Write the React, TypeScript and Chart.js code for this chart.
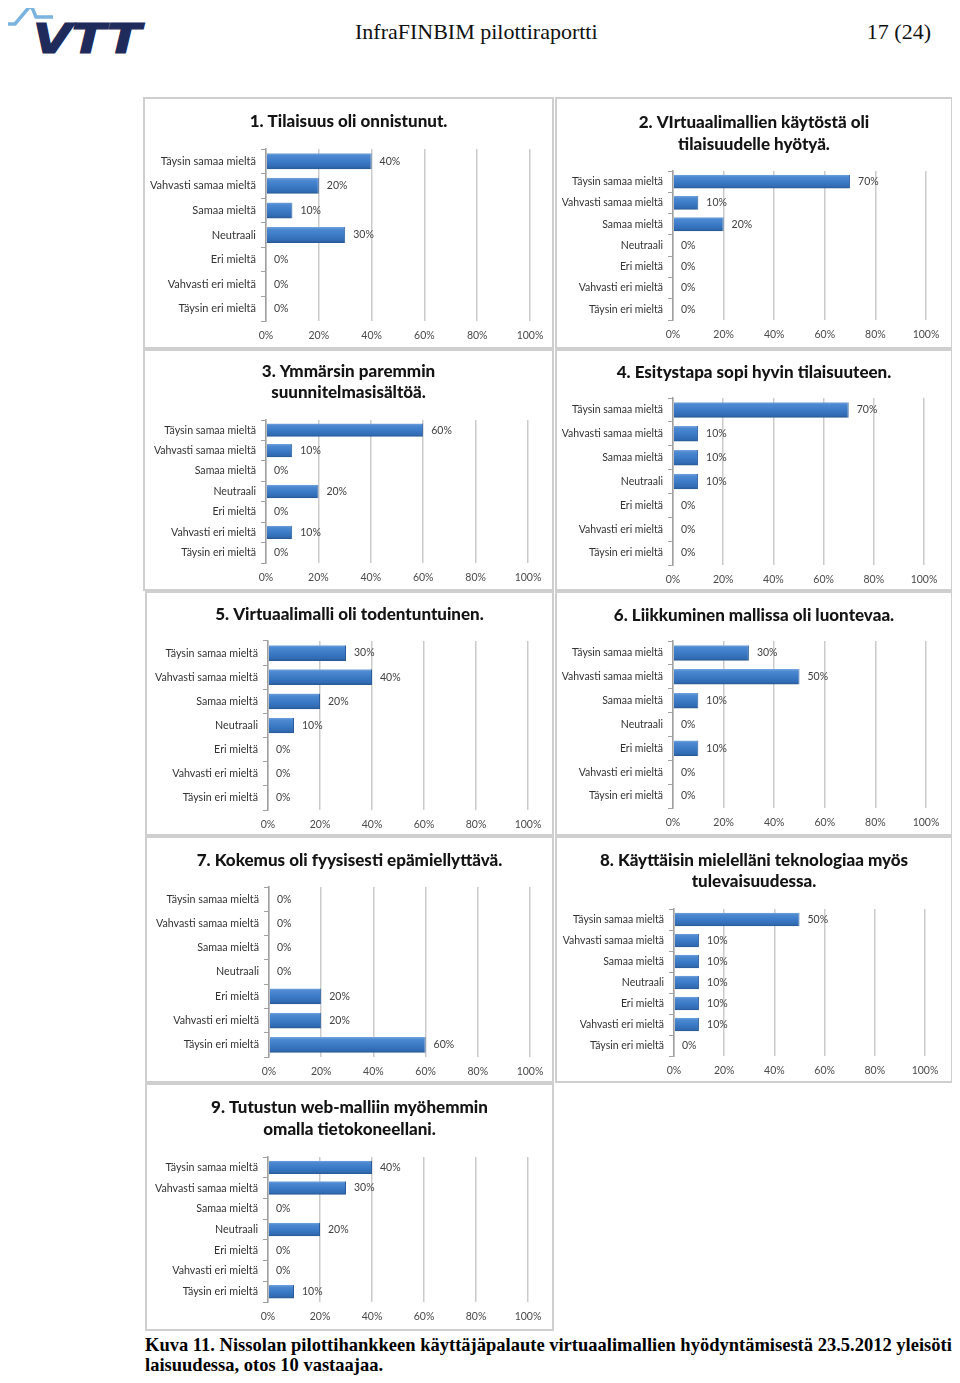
import React, { useEffect, useLayoutEffect, useRef, useState } from "react";
import { Chart, registerables } from "chart.js";

Chart.register(...registerables);

// ---------- data ----------
const CATEGORIES = [
  "Täysin samaa mieltä",
  "Vahvasti samaa mieltä",
  "Samaa mieltä",
  "Neutraali",
  "Eri mieltä",
  "Vahvasti eri mieltä",
  "Täysin eri mieltä",
];
const X_TICK_STEP = 20;
const X_MAX = 100;

const TITLE_1 = ["1. Tilaisuus oli onnistunut."];
const TITLE_2 = ["2. VIrtuaalimallien käytöstä oli", "tilaisuudelle hyötyä."];
const TITLE_3 = ["3. Ymmärsin paremmin", "suunnitelmasisältöä."];
const TITLE_4 = ["4. Esitystapa sopi hyvin tilaisuuteen."];
const TITLE_5 = ["5. Virtuaalimalli oli todentuntuinen."];
const TITLE_6 = ["6. Liikkuminen mallissa oli luontevaa."];
const TITLE_7 = ["7. Kokemus oli fyysisesti epämiellyttävä."];
const TITLE_8 = ["8. Käyttäisin mielelläni teknologiaa myös", "tulevaisuudessa."];
const TITLE_9 = ["9. Tutustun web-malliin myöhemmin", "omalla tietokoneellani."];

const VALUES_1 = [40, 20, 10, 30, 0, 0, 0];
const VALUES_2 = [70, 10, 20, 0, 0, 0, 0];
const VALUES_3 = [60, 10, 0, 20, 0, 10, 0];
const VALUES_4 = [70, 10, 10, 10, 0, 0, 0];
const VALUES_5 = [30, 40, 20, 10, 0, 0, 0];
const VALUES_6 = [30, 50, 10, 0, 10, 0, 0];
const VALUES_7 = [0, 0, 0, 0, 20, 20, 60];
const VALUES_8 = [50, 10, 10, 10, 10, 10, 0];
const VALUES_9 = [40, 30, 0, 20, 0, 0, 10];

const HEADER_TITLE = "InfraFINBIM pilottiraportti";
const HEADER_PAGE = "17 (24)";
const CAPTION_1 =
  "Kuva 11. Nissolan pilottihankkeen käyttäjäpalaute virtuaalimallien hyödyntämisestä 23.5.2012 yleisöti-";
const CAPTION_2 = "laisuudessa, otos 10 vastaajaa.";

// ---------- layout (page coordinates) ----------
type PanelSpec = {
  title: string[];
  values: number[];
  box: [number, number, number, number]; // left, top, width, height
  plot: [number, number, number, number]; // left, top, right, bottom
  titleY: number[];
  labelSize: number;
};

const PANELS: PanelSpec[] = [
  { title: TITLE_1, values: VALUES_1, box: [143, 97, 411, 252], plot: [266, 149, 530, 321], titleY: [122], labelSize: 11 },
  { title: TITLE_2, values: VALUES_2, box: [555, 97, 398, 252], plot: [673, 171, 926, 320], titleY: [123, 145], labelSize: 10.5 },
  { title: TITLE_3, values: VALUES_3, box: [143, 349, 411, 242], plot: [266, 420, 528, 563], titleY: [372, 393], labelSize: 10.6 },
  { title: TITLE_4, values: VALUES_4, box: [555, 349, 398, 242], plot: [673, 398, 924, 565], titleY: [373], labelSize: 10.5 },
  { title: TITLE_5, values: VALUES_5, box: [145, 591, 409, 245], plot: [268, 641, 528, 810], titleY: [615], labelSize: 10.7 },
  { title: TITLE_6, values: VALUES_6, box: [555, 591, 398, 245], plot: [673, 641, 926, 808], titleY: [616], labelSize: 10.5 },
  { title: TITLE_7, values: VALUES_7, box: [145, 836, 409, 247], plot: [269, 887, 530, 1057], titleY: [861], labelSize: 10.7 },
  { title: TITLE_8, values: VALUES_8, box: [555, 836, 398, 247], plot: [674, 909, 925, 1056], titleY: [861, 882], labelSize: 10.5 },
  { title: TITLE_9, values: VALUES_9, box: [145, 1083, 409, 248], plot: [268, 1157, 528, 1302], titleY: [1108, 1130], labelSize: 10.7 },
];

const PAGE_OFFSET = 8; // body margin
const BORDER = 2;
const BAR_PCT = 0.65;
const FONT = "Lato, 'Open Sans', sans-serif";
const SERIF = "'Liberation Serif', 'Times New Roman', serif";

function BarPanel({ spec }: { spec: PanelSpec }) {
  const ref = useRef<HTMLCanvasElement>(null);
  const [bx, by, bw, bh] = spec.box;
  const ox = bx + BORDER;
  const oy = by + BORDER;
  const cw = bw - 2 * BORDER;
  const ch = bh - 2 * BORDER;

  useEffect(() => {
    if (!ref.current) return;
    const [pl, pt, pr, pb] = spec.plot;

    const barFill = (c: any) => {
      const chart = c.chart;
      const ys = chart.scales && chart.scales.y;
      if (!ys || c.type !== "data" || !isFinite(ys.height)) return "#3b78c3";
      const center = ys.getPixelForValue(c.dataIndex);
      const half = ((ys.height / CATEGORIES.length) * BAR_PCT) / 2;
      if (!isFinite(center) || half <= 0) return "#3b78c3";
      const g = chart.ctx.createLinearGradient(0, center - half, 0, center + half);
      g.addColorStop(0, "#76a5de");
      g.addColorStop(0.15, "#4d89d1");
      g.addColorStop(0.5, "#3c7bc7");
      g.addColorStop(0.85, "#316bb3");
      g.addColorStop(1, "#26568f");
      return g;
    };

    const titlePlugin = {
      id: "panelTitle",
      afterDraw(chart: any) {
        const ctx = chart.ctx;
        ctx.save();
        ctx.font = `900 17px ${FONT}`;
        ctx.fillStyle = "#141414";
        ctx.textAlign = "center";
        ctx.textBaseline = "middle";
        spec.title.forEach((t, i) => {
          ctx.fillText(t, chart.width / 2, spec.titleY[i] - oy);
        });
        ctx.restore();
      },
    };

    const labelPlugin = {
      id: "valueLabels",
      afterDatasetsDraw(chart: any) {
        const ctx = chart.ctx;
        const meta = chart.getDatasetMeta(0);
        const data = chart.data.datasets[0].data as number[];
        ctx.save();
        ctx.font = `10.5px ${FONT}`;
        ctx.fillStyle = "#404040";
        ctx.textAlign = "left";
        ctx.textBaseline = "middle";
        meta.data.forEach((el: any, i: number) => {
          ctx.fillText(`${data[i]}%`, el.x + 8, el.y);
        });
        ctx.restore();
      },
    };

    const chart = new Chart(ref.current, {
      type: "bar",
      data: {
        labels: CATEGORIES,
        datasets: [
          {
            data: spec.values,
            backgroundColor: barFill as any,
            borderColor: "#2a5c9c",
            borderWidth: { top: 0, left: 0, bottom: 0, right: 1 },
            borderSkipped: "left",
            barPercentage: BAR_PCT,
            categoryPercentage: 1,
          },
        ],
      },
      options: {
        indexAxis: "y",
        responsive: false,
        animation: false,
        layout: {
          padding: { left: 0, top: pt - oy, right: ox + cw - pr, bottom: 0 },
        },
        plugins: {
          legend: { display: false },
          tooltip: { enabled: false },
          title: { display: false },
        },
        scales: {
          x: {
            type: "linear",
            min: 0,
            max: X_MAX,
            ticks: {
              stepSize: X_TICK_STEP,
              callback: (v: any) => `${v}%`,
              font: { family: FONT, size: 10.5 },
              color: "#4a4a4a",
              padding: 8,
              maxRotation: 0,
            },
            grid: { color: "#cbcbcb", lineWidth: 1.5, drawTicks: false },
            border: { display: false },
            afterFit: (s: any) => {
              s.height = oy + ch - pb;
            },
          },
          y: {
            type: "category",
            grid: {
              display: true,
              drawOnChartArea: false,
              drawTicks: true,
              tickLength: 5,
              color: "#a0a0a0",
              lineWidth: 1,
            },
            border: { display: true, color: "#a0a0a0", width: 1.5 },
            ticks: {
              font: { family: FONT, size: spec.labelSize },
              color: "#333333",
              padding: 5,
              autoSkip: false,
            },
            afterFit: (s: any) => {
              s.width = pl - ox;
            },
          },
        },
      } as any,
      plugins: [titlePlugin, labelPlugin],
    });
    return () => chart.destroy();
  }, [spec]);

  return (
    <div
      style={{
        position: "absolute",
        left: bx - PAGE_OFFSET,
        top: by - PAGE_OFFSET,
        width: bw,
        height: bh,
        boxSizing: "border-box",
        border: `${BORDER}px solid #cfcfcf`,
        background: "#fff",
      }}
    >
      <canvas ref={ref} width={cw} height={ch} style={{ display: "block", width: cw, height: ch }} />
    </div>
  );
}

function Caption() {
  const r1 = useRef<HTMLSpanElement>(null);
  const [scale, setScale] = useState(1);
  const target = 813;
  useLayoutEffect(() => {
    if (r1.current) {
      const w = r1.current.getBoundingClientRect().width;
      if (w > 0) setScale(target / w);
    }
  }, []);
  const common: React.CSSProperties = {
    position: "absolute",
    left: 145 - PAGE_OFFSET,
    whiteSpace: "nowrap",
    fontFamily: SERIF,
    fontWeight: "bold",
    fontSize: 19.5,
    lineHeight: "20px",
    color: "#000",
    transformOrigin: "0 0",
    transform: `scaleX(${scale})`,
  };
  return (
    <>
      <span ref={r1} style={{ ...common, top: 1335 - PAGE_OFFSET }}>
        {CAPTION_1}
      </span>
      <span style={{ ...common, top: 1355 - PAGE_OFFSET }}>{CAPTION_2}</span>
    </>
  );
}

function Header() {
  return (
    <>
      <svg
        style={{ position: "absolute", left: -PAGE_OFFSET, top: -PAGE_OFFSET }}
        width={150}
        height={60}
        viewBox="0 0 150 60"
      >
        <polyline
          points="1,24 15,24 31,5 36,17 53,17"
          fill="none"
          stroke="#7ab3e0"
          strokeWidth={3.5}
          strokeLinejoin="miter"
        />
        <text
          x={33}
          y={53}
          fontFamily="'DejaVu Sans', sans-serif"
          fontWeight="bold"
          fontStyle="italic"
          fontSize={40}
          textLength={108}
          lengthAdjust="spacingAndGlyphs"
          fill="#1f2b5b"
          stroke="#1f2b5b"
          strokeWidth={1.2}
        >
          VTT
        </text>
      </svg>
      <div
        style={{
          position: "absolute",
          left: 355 - PAGE_OFFSET,
          top: 19 - PAGE_OFFSET,
          fontFamily: SERIF,
          fontSize: 22,
          lineHeight: "26px",
          color: "#111",
          whiteSpace: "nowrap",
        }}
      >
        {HEADER_TITLE}
      </div>
      <div
        style={{
          position: "absolute",
          right: 960 - 931 - PAGE_OFFSET,
          top: 19 - PAGE_OFFSET,
          fontFamily: SERIF,
          fontSize: 22,
          lineHeight: "26px",
          color: "#111",
          whiteSpace: "nowrap",
        }}
      >
        {HEADER_PAGE}
      </div>
    </>
  );
}

export default function App() {
  return (
    <div style={{ position: "relative", width: 960 - 2 * PAGE_OFFSET, height: 1383 - 2 * PAGE_OFFSET, background: "#fff" }}>
      <Header />
      {PANELS.map((p, i) => (
        <BarPanel key={i} spec={p} />
      ))}
      <Caption />
    </div>
  );
}
